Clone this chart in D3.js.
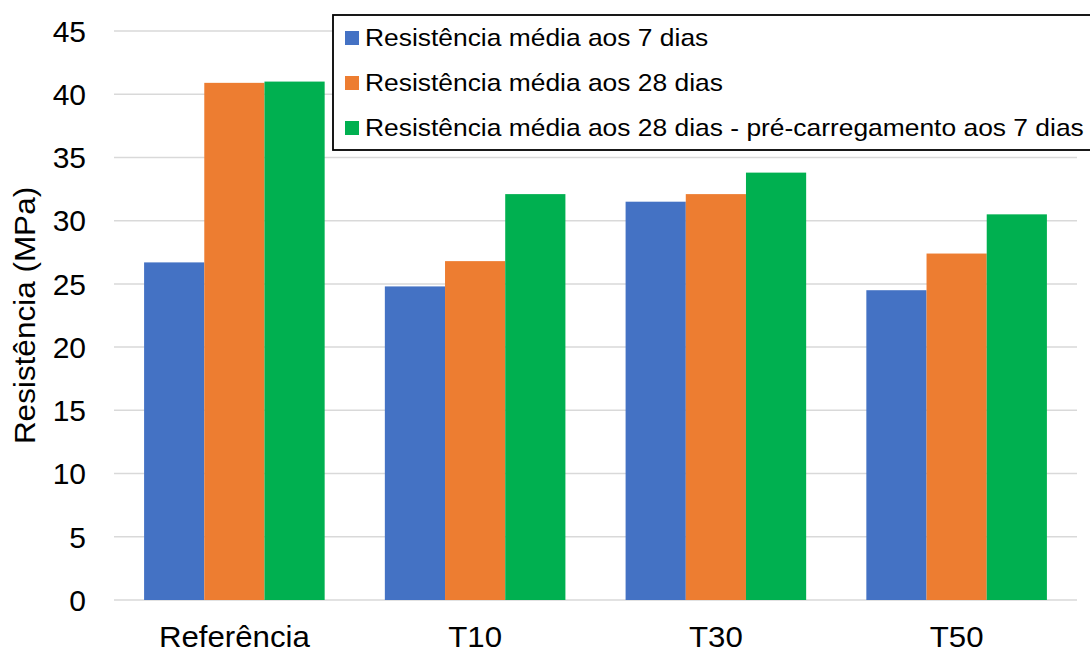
<!DOCTYPE html>
<html>
<head>
<meta charset="utf-8">
<script src="https://cdn.jsdelivr.net/npm/d3@7"></script>
<style>
  html, body { margin: 0; padding: 0; background: #fff; }
  svg { display: block; font-family: "Liberation Sans", Arial, sans-serif; }
</style>
</head>
<body>
<svg id="chart" width="1090" height="651"></svg>
<script>
// Compressive strength by mix (MPa)
const categories = ["Referência", "T10", "T30", "T50"];
const seriesNames = [
  "Resistência média aos 7 dias",
  "Resistência média aos 28 dias",
  "Resistência média aos 28 dias - pré-carregamento aos 7 dias"
];
const strength7 = [26.7, 24.8, 31.5, 24.5];
const strength28 = [40.9, 26.8, 32.1, 27.4];
const strength28Preload = [41.0, 32.1, 33.8, 30.5];
const yTicks = [0, 5, 10, 15, 20, 25, 30, 35, 40, 45];
const colors = ["#4472C4", "#ED7D31", "#00B050"];

const seriesValues = [strength7, strength28, strength28Preload];

const svg = d3.select("#chart");
const plotLeft = 114, plotRight = 1077, plotTop = 31, plotBottom = 600;

const x0 = d3.scaleBand().domain(categories).range([plotLeft, plotRight]).padding(0);
const x1 = d3.scaleBand().domain(d3.range(seriesNames.length))
  .range([0, x0.bandwidth()]).paddingInner(0).paddingOuter(0.5);
const y = d3.scaleLinear().domain([0, 45]).range([plotBottom, plotTop]);

// horizontal gridlines
svg.append("g").selectAll("line").data(yTicks).join("line")
  .attr("x1", plotLeft).attr("x2", plotRight)
  .attr("y1", d => y(d)).attr("y2", d => y(d))
  .attr("stroke", "#d9d9d9").attr("stroke-width", 1.5);

// y tick labels
svg.append("g").selectAll("text").data(yTicks).join("text")
  .attr("x", 86).attr("y", d => y(d)).attr("dy", "0.36em")
  .attr("text-anchor", "end").attr("font-size", 30).attr("fill", "#000")
  .text(d => d);

// bars
const groups = svg.append("g").selectAll("g").data(categories).join("g")
  .attr("transform", d => `translate(${x0(d)},0)`);
groups.selectAll("rect")
  .data((c, ci) => seriesValues.map((vals, si) => ({ si, v: vals[ci] })))
  .join("rect")
  .attr("x", d => x1(d.si))
  .attr("width", x1.bandwidth())
  .attr("y", d => y(d.v))
  .attr("height", d => y(0) - y(d.v))
  .attr("fill", d => colors[d.si]);

// x category labels
svg.append("g").selectAll("text").data(categories).join("text")
  .attr("x", d => x0(d) + x0.bandwidth() / 2).attr("y", 647)
  .attr("text-anchor", "middle").attr("font-size", 30).attr("fill", "#000")
  .attr("transform", d => {
    const cx = x0(d) + x0.bandwidth() / 2;
    return `translate(${cx},0) scale(1.04,1) translate(${-cx},0)`;
  })
  .text(d => d);

// y axis title
svg.append("text")
  .attr("transform", `translate(35,${(plotTop + plotBottom) / 2}) rotate(-90) scale(1.05,1)`)
  .attr("text-anchor", "middle").attr("font-size", 30).attr("fill", "#000")
  .text("Resistência (MPa)");

// legend
const legend = svg.append("g");
legend.append("rect")
  .attr("x", 333).attr("y", 15).attr("width", 800).attr("height", 135)
  .attr("fill", "#fff").attr("stroke", "#000").attr("stroke-width", 1.8);
const rows = legend.selectAll("g").data(seriesNames).join("g")
  .attr("transform", (d, i) => `translate(0,${i * 45})`);
rows.append("rect")
  .attr("x", 345).attr("y", 31).attr("width", 14).attr("height", 14)
  .attr("fill", (d, i) => colors[i]);
rows.append("text")
  .attr("transform", "translate(365,46) scale(1.1,1)")
  .attr("font-size", 24).attr("fill", "#000")
  .text(d => d);
</script>
</body>
</html>
